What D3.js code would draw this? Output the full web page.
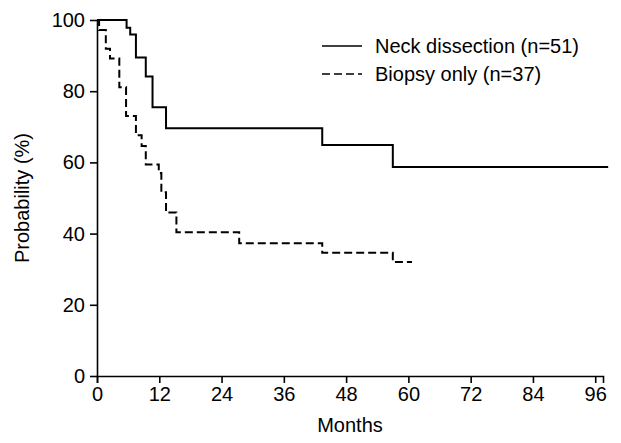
<!DOCTYPE html>
<html>
<head>
<meta charset="utf-8">
<script src="https://cdn.jsdelivr.net/npm/d3@7"></script>
<style>
  html, body { margin: 0; padding: 0; background: #fff; }
  svg { display: block; font-family: "Liberation Sans", Arial, sans-serif; }
</style>
</head>
<body>
<svg id="chart" width="621" height="443"></svg>
<script>
// Kaplan-Meier step data (months, probability %)
const neckTimes  = [0, 5.7, 6.4, 7.5, 9.4, 10.7, 13.3, 43.4, 57.0, 98.5];
const neckValues = [100, 97.8, 95.9, 89.5, 84.1, 75.5, 69.6, 64.9, 58.7, 58.7];

const biopsyTimes  = [0, 0.4, 1.7, 2.5, 4.3, 5.6, 7.5, 8.6, 9.4, 11.9, 12.4, 13.3, 15.3, 27.4, 43.4, 57.0, 60.7];
const biopsyValues = [100, 97.2, 91.9, 89.2, 81.1, 73.0, 67.6, 64.6, 59.4, 57.0, 51.6, 45.9, 40.4, 37.3, 34.6, 32.0, 32.0];

const seriesNames = ["Neck dissection (n=51)", "Biopsy only (n=37)"];
const xTicks = [0, 12, 24, 36, 48, 60, 72, 84, 96];
const yTicks = [0, 20, 40, 60, 80, 100];
const xLabel = "Months";
const yLabel = "Probability (%)";

const W = 621, H = 443;
const margin = {left: 97, top: 20, right: 18, bottom: 67};
const svg = d3.select("#chart");

const x = d3.scaleLinear().domain([0, 97.5]).range([margin.left, W - margin.right]);
const y = d3.scaleLinear().domain([0, 100]).range([H - margin.bottom, margin.top]);

const fontSize = 20;

// axes
const xAxis = d3.axisBottom(x).tickValues(xTicks).tickSize(7).tickSizeOuter(7).tickPadding(4);
const yAxis = d3.axisLeft(y).tickValues(yTicks).tickSize(7).tickSizeOuter(0).tickPadding(5);

const gx = svg.append("g").attr("transform", `translate(0,${y(0)})`).call(xAxis);
const gy = svg.append("g").attr("transform", `translate(${x(0)},0)`).call(yAxis);
[gx, gy].forEach(g => {
  g.selectAll("path, line").attr("stroke", "#000").attr("stroke-width", 1.6);
  g.selectAll("text").attr("fill", "#000").style("font-size", fontSize + "px")
    .style("font-family", "'Liberation Sans', Arial, sans-serif");
});

// axis labels
svg.append("text").attr("x", (x(0) + x(97.5)) / 2).attr("y", 432)
  .attr("text-anchor", "middle").style("font-size", fontSize + "px").text(xLabel);
svg.append("text").attr("transform", `translate(29,${(y(0) + y(100)) / 2}) rotate(-90)`)
  .attr("text-anchor", "middle").style("font-size", fontSize + "px").text(yLabel);

// step lines
const line = d3.line().x(d => x(d[0])).y(d => y(d[1])).curve(d3.curveStepAfter);
const neckData = neckTimes.map((t, i) => [t, neckValues[i]]);
const biopsyData = biopsyTimes.map((t, i) => [t, biopsyValues[i]]);

svg.append("path").datum(neckData).attr("d", line)
  .attr("fill", "none").attr("stroke", "#000").attr("stroke-width", 2);
svg.append("path").datum(biopsyData).attr("d", line)
  .attr("fill", "none").attr("stroke", "#000").attr("stroke-width", 2)
  .attr("stroke-dasharray", "8,4");

// legend
const legend = svg.append("g");
const dashes = [null, "8,4"];
seriesNames.forEach((name, i) => {
  const ly = 46 + i * 28;
  legend.append("line").attr("x1", 322).attr("x2", 362).attr("y1", ly).attr("y2", ly)
    .attr("stroke", "#000").attr("stroke-width", 1.6)
    .attr("stroke-dasharray", dashes[i]);
  legend.append("text").attr("x", 375).attr("y", ly).attr("dy", "0.35em")
    .style("font-size", fontSize + "px").text(name);
});
</script>
</body>
</html>
